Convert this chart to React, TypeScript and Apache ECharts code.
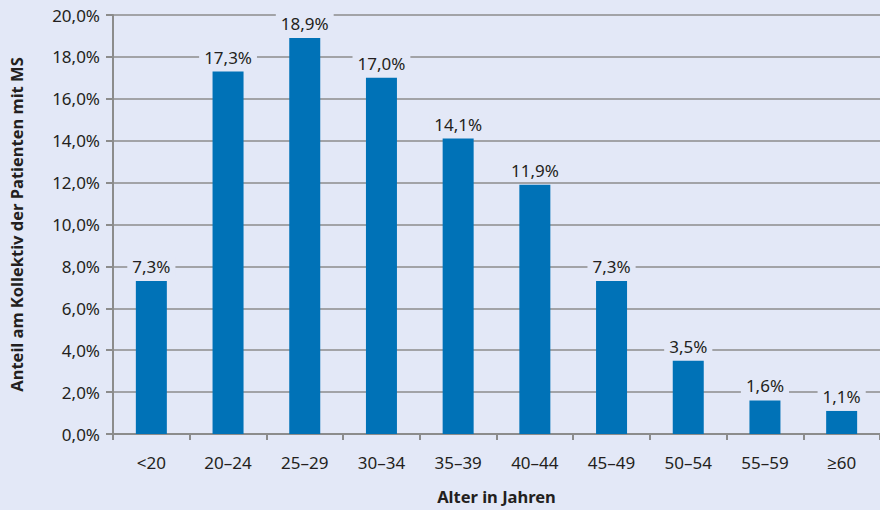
import React, { useEffect, useRef } from "react";
import * as echarts from "echarts";

const categories = ["<20", "20–24", "25–29", "30–34", "35–39", "40–44", "45–49", "50–54", "55–59", "≥60"];
const values = [7.3, 17.3, 18.9, 17.0, 14.1, 11.9, 7.3, 3.5, 1.6, 1.1];
const yTitle = "Anteil am Kollektiv der Patienten mit MS";
const xTitle = "Alter in Jahren";

const BG = "#e3e8f7";
const BAR = "#0072b7";
const GRID = "#8c8c8c";
const TEXT = "#231f20";
const FONT = "'Noto Sans', 'Open Sans', sans-serif";

const fmt = (v: number) => v.toFixed(1).replace(".", ",") + "%";

export default function App() {
  const ref = useRef<HTMLDivElement>(null);
  useEffect(() => {
    document.body.style.margin = "0";
    document.body.style.background = BG;
    const chart = echarts.init(ref.current!, undefined, { renderer: "svg" });
    chart.setOption({
      animation: false,
      backgroundColor: BG,
      textStyle: { fontFamily: FONT, color: TEXT },
      grid: { left: 107, right: 0, top: 15, bottom: 68 },
      xAxis: {
        type: "category",
        data: categories,
        boundaryGap: true,
        name: xTitle,
        nameLocation: "middle",
        nameGap: 54,
        nameTextStyle: { fontFamily: FONT, fontWeight: "bold", fontSize: 16.5, color: TEXT },
        axisLine: { lineStyle: { color: GRID, width: 2 } },
        axisTick: { show: true, length: 6, lineStyle: { color: GRID, width: 2 } },
        axisLabel: { fontFamily: FONT, fontSize: 17, color: TEXT, margin: 20 },
      },
      yAxis: {
        type: "value",
        min: 0,
        max: 20,
        interval: 2,
        name: yTitle,
        nameLocation: "middle",
        nameGap: 88,
        nameTextStyle: { fontFamily: FONT, fontWeight: "bold", fontSize: 16.5, color: TEXT },
        axisLine: { show: true, lineStyle: { color: GRID, width: 2 } },
        axisTick: { show: true, length: 7, lineStyle: { color: GRID, width: 2 } },
        axisLabel: { fontFamily: FONT, fontSize: 17, color: TEXT, margin: 13, formatter: (v: number) => fmt(v) },
        splitLine: { show: true, lineStyle: { color: GRID, width: 1.5 } },
      },
      series: [
        {
          type: "bar",
          data: values,
          barWidth: 31,
          itemStyle: { color: BAR },
          label: {
            show: true,
            position: "top",
            distance: 5,
            fontFamily: FONT,
            fontSize: 17,
            color: TEXT,
            backgroundColor: BG,
            padding: [1, 5],
            formatter: (p: any) => fmt(p.value),
          },
        },
      ],
    });
    return () => chart.dispose();
  }, []);
  return <div ref={ref} style={{ width: 880, height: 510 }} />;
}
